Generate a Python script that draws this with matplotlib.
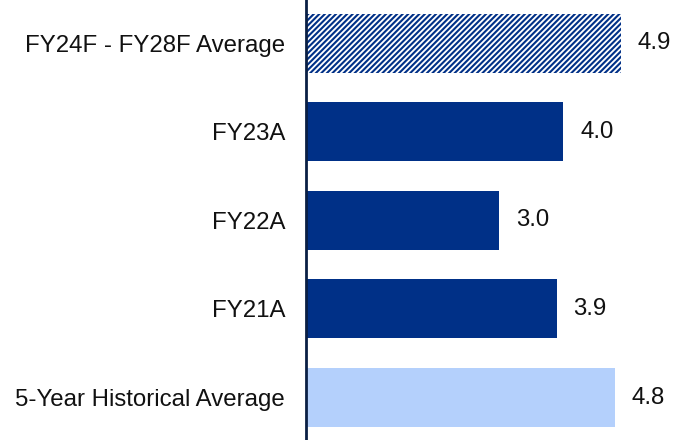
import matplotlib.pyplot as plt

plt.rcParams['font.family'] = ['Liberation Sans', 'DejaVu Sans']
plt.rcParams['hatch.linewidth'] = 1.5

# bottom to top
categories = ['5-Year Historical Average', 'FY21A', 'FY22A', 'FY23A', 'FY24F - FY28F Average']
values = [4.8, 3.9, 3.0, 4.0, 4.9]
labels = ['4.8', '3.9', '3.0', '4.0', '4.9']

navy = '#003087'
light = '#B4D0FC'

fig = plt.figure(figsize=(6.74, 4.4), dpi=100)
ax = fig.add_axes([0.454, 0.0, 0.546, 1.0])

ypos = list(range(len(categories)))
colors = [light, navy, navy, navy, 'white']
bars = ax.barh(ypos, values, height=0.667, color=colors, linewidth=0)
# forecast bar: navy diagonal stripes
bars[-1].set_hatch('//////')
bars[-1].set_edgecolor(navy)
bars[-1].set_linewidth(0)

for y, v, lab in zip(ypos, values, labels):
    ax.text(v + 0.26, y, lab, va='center', ha='left', fontsize=17.3, color='#111111')

ax.set_yticks(ypos)
ax.set_yticklabels(categories, fontsize=17.3, color='#111111')
ax.tick_params(axis='y', length=0, pad=15)
ax.set_xticks([])
ax.set_xlim(0, 5.72)
ax.set_ylim(-0.48, 4.49)

for s in ['top', 'right', 'bottom']:
    ax.spines[s].set_visible(False)
ax.spines['left'].set_color('#0a1f44')
ax.spines['left'].set_linewidth(2)

fig.savefig('out.png', dpi=100)
